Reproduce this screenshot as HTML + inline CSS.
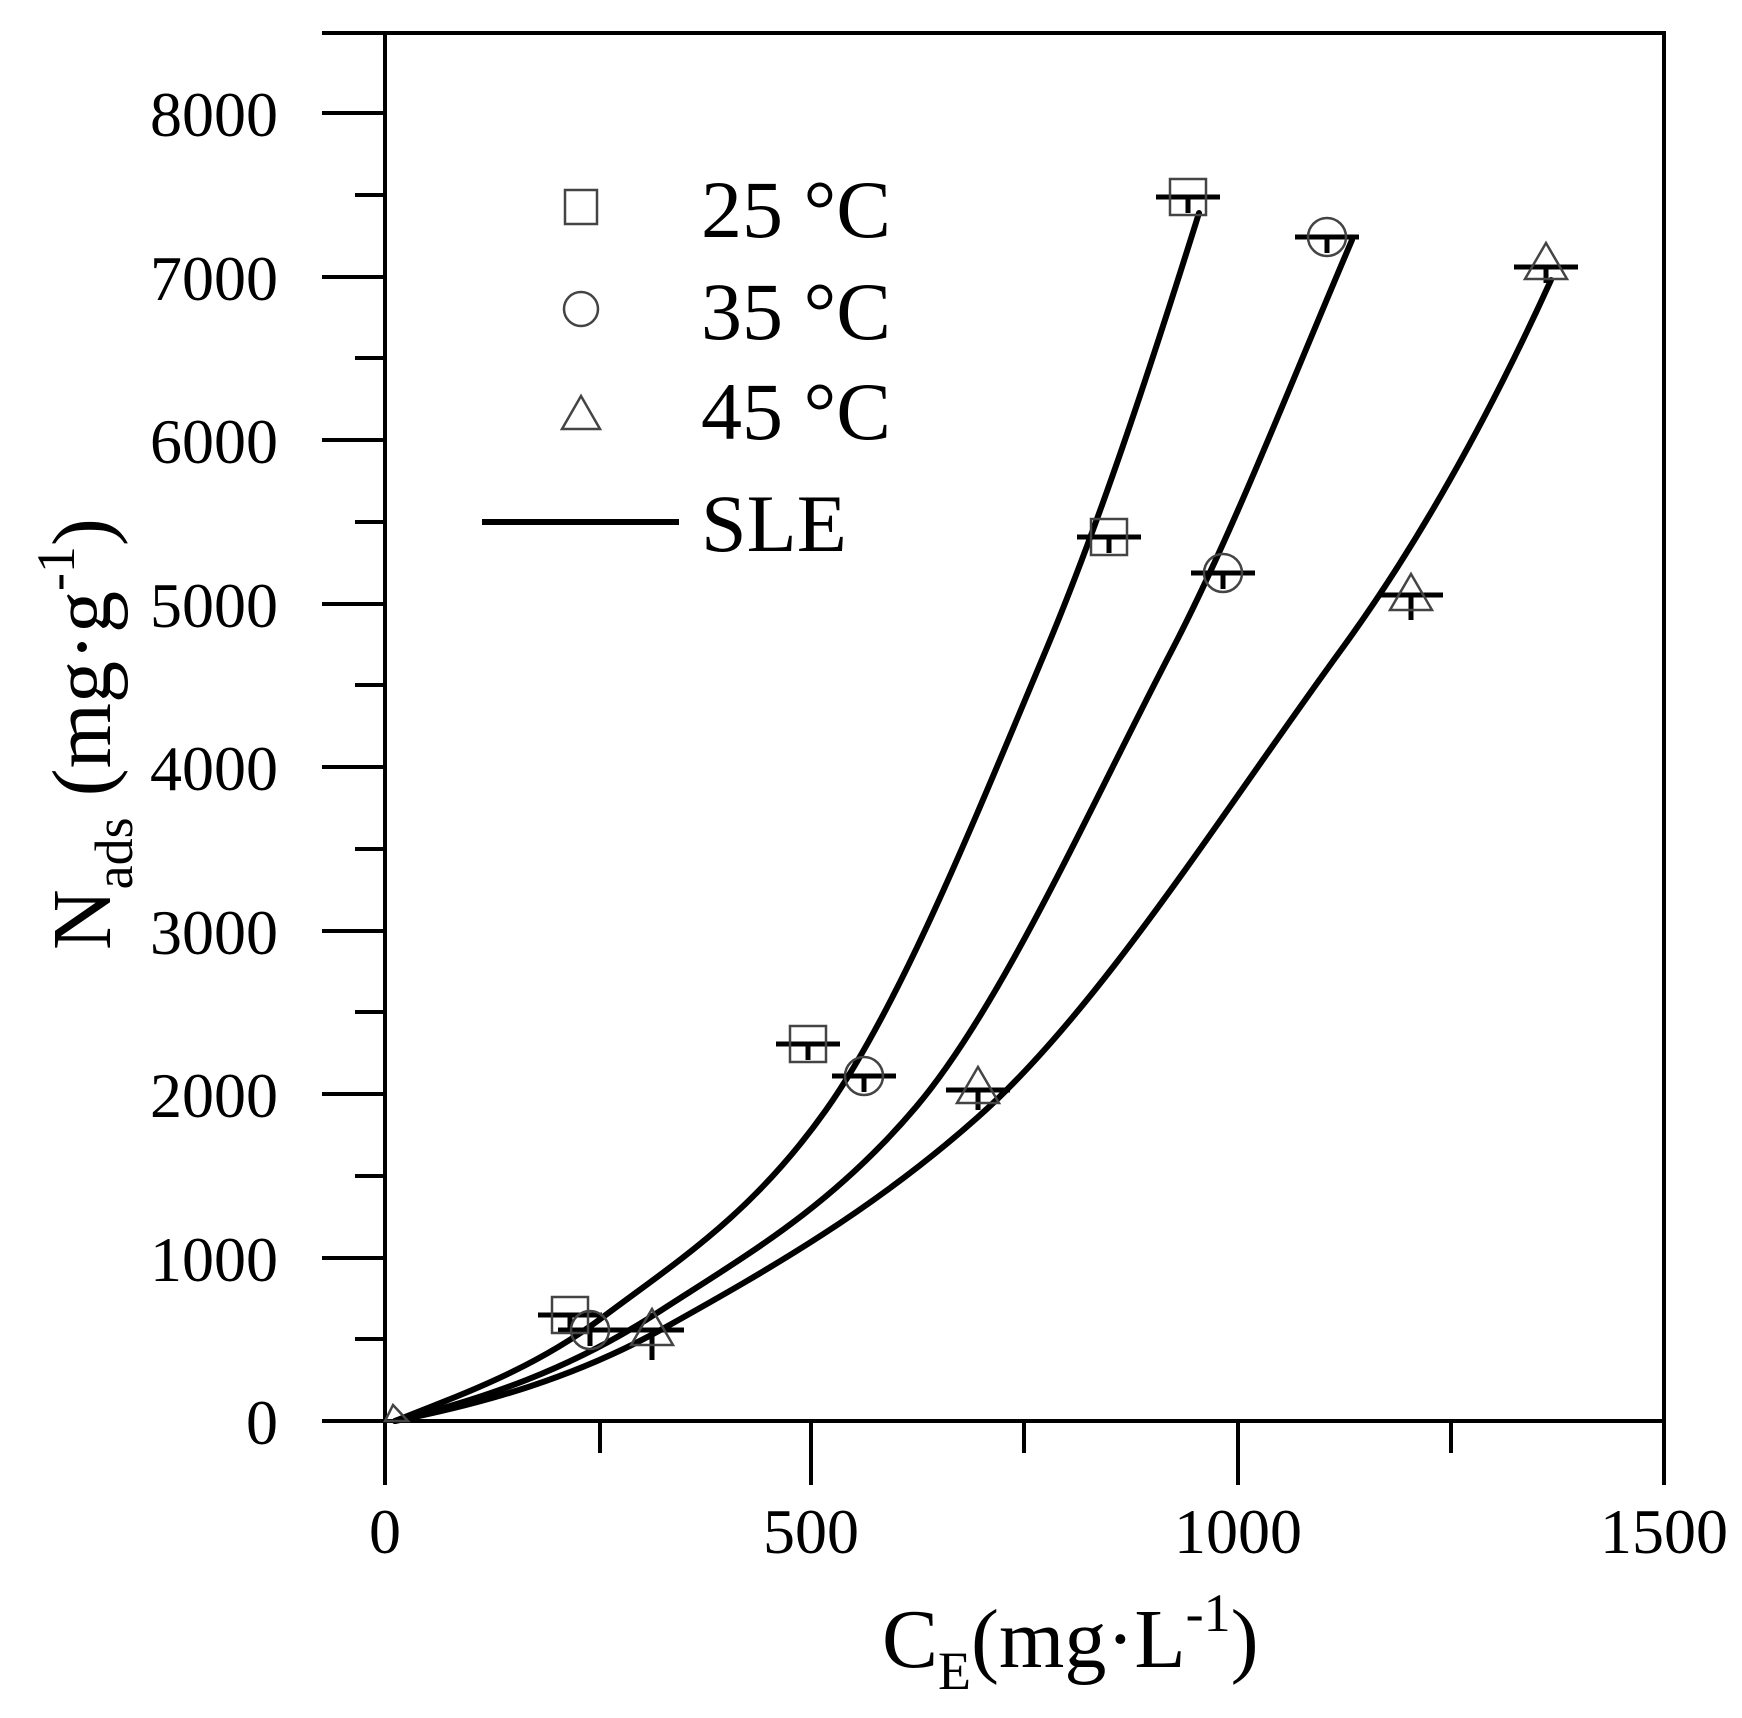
<!DOCTYPE html>
<html><head><meta charset="utf-8"><style>html,body{margin:0;padding:0;background:#fff}svg{display:block}</style></head>
<body>
<svg width="1742" height="1718" viewBox="0 0 1742 1718" xmlns="http://www.w3.org/2000/svg" font-family="'Liberation Serif', serif">
<rect width="1742" height="1718" fill="#fff"/>
<g stroke="#000" stroke-width="4" fill="none">
<line x1="322" y1="33" x2="1666" y2="33"/>
<line x1="385" y1="31" x2="385" y2="1485"/>
<line x1="1664" y1="31" x2="1664" y2="1485"/>
<line x1="322" y1="1421" x2="1666" y2="1421"/>
</g>
<g stroke="#000" stroke-width="4">
<line x1="322" y1="1421" x2="385" y2="1421"/>
<line x1="355" y1="1339" x2="385" y2="1339"/>
<line x1="322" y1="1258" x2="385" y2="1258"/>
<line x1="355" y1="1176" x2="385" y2="1176"/>
<line x1="322" y1="1094" x2="385" y2="1094"/>
<line x1="355" y1="1012" x2="385" y2="1012"/>
<line x1="322" y1="931" x2="385" y2="931"/>
<line x1="355" y1="849" x2="385" y2="849"/>
<line x1="322" y1="767" x2="385" y2="767"/>
<line x1="355" y1="685" x2="385" y2="685"/>
<line x1="322" y1="604" x2="385" y2="604"/>
<line x1="355" y1="522" x2="385" y2="522"/>
<line x1="322" y1="440" x2="385" y2="440"/>
<line x1="355" y1="358" x2="385" y2="358"/>
<line x1="322" y1="277" x2="385" y2="277"/>
<line x1="355" y1="195" x2="385" y2="195"/>
<line x1="322" y1="113" x2="385" y2="113"/>
<line x1="600" y1="1421" x2="600" y2="1453"/>
<line x1="811" y1="1421" x2="811" y2="1485"/>
<line x1="1024" y1="1421" x2="1024" y2="1453"/>
<line x1="1238" y1="1421" x2="1238" y2="1485"/>
<line x1="1451" y1="1421" x2="1451" y2="1453"/>
</g>
<g font-size="64" text-anchor="end" fill="#000">
<text x="278" y="1444">0</text>
<text x="278" y="1281">1000</text>
<text x="278" y="1117">2000</text>
<text x="278" y="954">3000</text>
<text x="278" y="790">4000</text>
<text x="278" y="627">5000</text>
<text x="278" y="463">6000</text>
<text x="278" y="300">7000</text>
<text x="278" y="136">8000</text>
</g>
<g font-size="64" text-anchor="middle" fill="#000">
<text x="385" y="1553">0</text>
<text x="811" y="1553">500</text>
<text x="1238" y="1553">1000</text>
<text x="1664" y="1553">1500</text>
</g>
<text x="882" y="1667" font-size="84">C<tspan font-size="54" dy="22">E</tspan><tspan dy="-22">(mg·L</tspan><tspan font-size="54" dy="-36">-1</tspan><tspan dy="36">)</tspan></text>
<text transform="translate(110,950) rotate(-90)" font-size="84">N<tspan font-size="54" dy="22">ads</tspan><tspan dy="-22"> (mg·g</tspan><tspan font-size="54" dy="-36">-1</tspan><tspan dy="36">)</tspan></text>
<g stroke="#000" stroke-width="6" fill="none" stroke-linecap="round">
<path d="M395,1421 C464.3,1393.3 533.7,1369 603,1317 C677.3,1261.3 751.7,1214.8 826,1110 C899.3,1006.6 972.7,824.5 1046,650 C1097,528.6 1148,376 1199,213"/>
<path d="M395,1421 C482.3,1399.2 569.7,1369.8 657,1313 C743.3,1256.9 829.7,1208.9 916,1107 C1001.3,1006.3 1086.7,813.8 1172,650 C1232,534.8 1292,380.4 1352,240"/>
<path d="M395,1421 C485.3,1403 575.7,1377.6 666,1327 C770,1268.8 874,1209.6 978,1117 C1099,1009.3 1220,815.8 1341,650 C1411,554.1 1481,434 1551,280"/>
</g>
<g stroke="#000" stroke-width="5">
<path d="M1156,197h64M1188,197v16 M1077,537h64M1109,537v16 M538,1315h64M570,1315v16 M776,1044h64M808,1044v16"/>
<path d="M1295,237h64M1327,237v16 M1191,573h64M1223,573v16 M832,1076h64M864,1076v16 M558,1330h64M590,1330v16"/>
<path d="M1514,267h64M1546,267v16 M1379,595h64M1411,595v25 M946,1090h64M978,1090v20 M620,1330h64M652,1330v30"/>
</g>
<g stroke="#444" stroke-width="2.5" fill="none">
<rect x="1170" y="179" width="36" height="36"/><rect x="1091" y="519" width="36" height="36"/><rect x="552" y="1297" width="36" height="36"/><rect x="790" y="1026" width="36" height="36"/>
<circle cx="1327" cy="237" r="19"/><circle cx="1223" cy="573" r="19"/><circle cx="864" cy="1076" r="19"/><circle cx="590" cy="1330" r="19"/>
<path d="M1546,243 L1567,279 L1525,279 Z M1411,574 L1432,610 L1390,610 Z M978,1067 L999,1103 L957,1103 Z M652,1309 L673,1345 L631,1345 Z M393,1405 L408,1421 L385,1421 Z"/>
</g>
<g stroke="#444" stroke-width="2.5" fill="none">
<rect x="565" y="190" width="32" height="34"/>
<circle cx="581" cy="309" r="17"/>
<path d="M581,396 L600,429 L562,429 Z"/>
</g>
<g font-size="82" fill="#000">
<text x="701" y="237">25 °C</text>
<text x="701" y="339">35 °C</text>
<text x="701" y="439">45 °C</text>
<text x="701" y="551">SLE</text>
</g>
<line x1="482" y1="522" x2="679" y2="522" stroke="#000" stroke-width="6"/>
</svg>
</body></html>
